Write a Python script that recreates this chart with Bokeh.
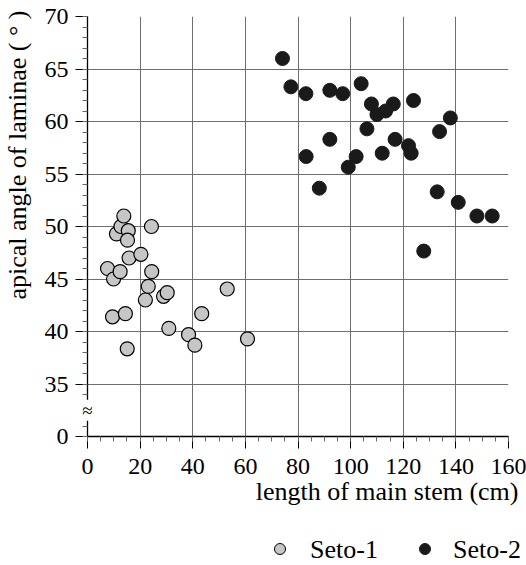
import math
from bokeh.plotting import figure
from bokeh.layouts import column
from bokeh.models import FixedTicker, Label, Range1d, Title, Div
from bokeh.embed import file_html
from bokeh.resources import INLINE

# Seto-1 : length of main stem (cm), apical angle (deg)
seto1_x = [7.6, 9.9, 9.5, 11.0, 12.4, 12.7, 13.8, 15.5, 15.2, 15.8, 14.4, 15.1,
           20.3, 24.3, 24.4, 23.1, 22.0, 28.9, 30.3, 30.9, 38.4, 40.8, 43.4, 53.1, 60.8]
seto1_y = [46.0, 45.0, 41.4, 49.3, 45.7, 50.0, 51.0, 49.6, 48.7, 47.0, 41.7, 38.35,
           47.35, 50.0, 45.7, 44.3, 43.0, 43.35, 43.7, 40.3, 39.7, 38.7, 41.7, 44.05, 39.3]

# Seto-2
seto2_x = [74.1, 77.3, 83.0, 92.1, 97.0, 104.0, 107.9, 116.2, 113.3, 110.0, 123.9, 137.9,
           133.8, 106.2, 92.1, 116.9, 122.0, 123.0, 112.0, 102.1, 83.1, 99.1, 88.1, 132.9,
           140.9, 148.0, 153.8, 127.8]
seto2_y = [66.0, 63.3, 62.65, 62.97, 62.65, 63.6, 61.67, 61.67, 61.0, 60.66, 62.0, 60.34,
           59.04, 59.3, 58.3, 58.3, 57.7, 56.98, 56.98, 56.66, 56.66, 55.65, 53.65, 53.3,
           52.3, 51.0, 51.0, 47.66]

series_names = ["Seto-1", "Seto-2"]
x_title = "length of main stem (cm)"
y_title = "apical angle of laminae ( ° )"

x_ticks = [0, 20, 40, 60, 80, 100, 120, 140, 160]
x_minor = list(range(0, 161, 5))
# broken axis: the bottom position (30) is labelled "0"
y_ticks = [30, 35, 40, 45, 50, 55, 60, 65, 70]
y_tick_labels = {30: "0", 35: "35", 40: "40", 45: "45", 50: "50", 55: "55", 60: "60", 65: "65", 70: "70"}
y_minor = list(range(30, 71, 1))
break_y = 32.5   # where the axis-break sign sits on the broken y axis

FONT = "Liberation Serif"
GRAY_FILL = "#c6c6c6"
DARK = "#1a1a1a"

# ---------------- main plot ----------------
p = figure(frame_width=421, frame_height=420,
           min_border_left=86, min_border_right=19, min_border_top=16, min_border_bottom=95,
           x_range=Range1d(0, 160), y_range=Range1d(30, 70),
           output_backend="svg", toolbar_location=None)
p.outline_line_color = None
p.background_fill_color = "white"
p.border_fill_color = "white"

for ax in (p.xaxis[0], p.yaxis[0]):
    ax.axis_line_color = "black"
    ax.axis_line_width = 1.3
    ax.major_tick_line_color = "black"
    ax.major_tick_out = 12
    ax.major_tick_in = 0
    ax.minor_tick_line_color = "#666666"
    ax.minor_tick_out = 5
    ax.minor_tick_in = 0
    ax.major_label_text_font = FONT
    ax.major_label_text_font_size = "24px"
    ax.major_label_text_color = "black"

p.xaxis[0].ticker = FixedTicker(ticks=x_ticks, minor_ticks=x_minor)
p.yaxis[0].ticker = FixedTicker(ticks=y_ticks, minor_ticks=y_minor)
p.yaxis[0].major_label_overrides = y_tick_labels
p.xaxis[0].major_label_standoff = 10
p.yaxis[0].major_label_standoff = 7

p.xgrid[0].ticker = FixedTicker(ticks=x_ticks)
p.ygrid[0].ticker = FixedTicker(ticks=y_ticks)
p.xgrid.grid_line_color = "#6e6e6e"
p.ygrid.grid_line_color = "#6e6e6e"
p.xgrid.grid_line_width = 1
p.ygrid.grid_line_width = 1

p.scatter(seto1_x, seto1_y, size=14, marker="circle",
          fill_color=GRAY_FILL, line_color="black", line_width=1.2)
p.scatter(seto2_x, seto2_y, size=14, marker="circle",
          fill_color=DARK, line_color=DARK, line_width=1)

# axis break mark (side panel so it is not clipped by the frame)
p.add_layout(Label(x=0, y=break_y, x_units="data", y_units="data",
                   text="≈", text_align="center", text_baseline="middle",
                   text_font=FONT, text_font_size="19px", text_color="black",
                   background_fill_color="white"), "left")

# axis titles as side-panel titles (allow off-centre placement)
ytitle = Title(text=y_title, align="right", offset=-6,
               text_font=FONT, text_font_size="26px", text_font_style="normal",
               text_color="black", standoff=0)
p.add_layout(ytitle, "left")
xtitle = Title(text=x_title, align="right", offset=-10,
               text_font=FONT, text_font_size="26px", text_font_style="normal",
               text_color="black", standoff=0, vertical_align="top")
p.add_layout(xtitle, "below")

# ---------------- legend strip below the plot ----------------
def marker_html(left, fill, line):
    return (f'<span style="position:absolute;left:{left}px;top:12px;width:12px;height:12px;'
            f'border-radius:50%;background:{fill};border:1.2px solid {line};"></span>')

def label_html(left, text):
    return (f'<span style="position:absolute;left:{left}px;top:4px;line-height:30px;'
            f'font-family:\'{FONT}\',serif;font-size:26px;color:black;white-space:nowrap;">{text}</span>')

legend_html = ('<div style="position:relative;width:526px;height:34px;">'
               + marker_html(274, GRAY_FILL, "black") + label_html(310, series_names[0])
               + marker_html(419, DARK, DARK) + label_html(453, series_names[1])
               + '</div>')
legend_div = Div(text=legend_html, width=526, height=34, margin=0)

layout = column(p, legend_div, spacing=0)
open("out.html", "w").write(file_html(layout, INLINE))
